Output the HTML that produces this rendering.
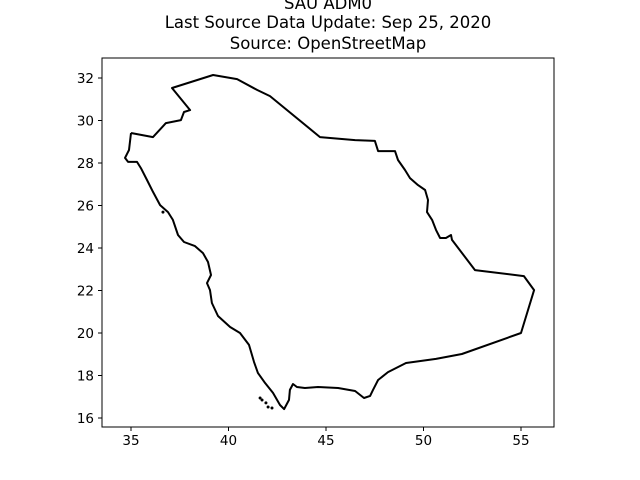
<!DOCTYPE html>
<html><head><meta charset="utf-8"><style>
body{margin:0;background:#fff;}
svg{display:block;font-family:"DejaVu Sans","Liberation Sans",sans-serif;}
</style></head><body>
<svg id="chart" width="640" height="480" viewBox="0 0 640 480">
<rect width="640" height="480" fill="#fff"/>
<text x="328" y="9" text-anchor="middle" font-size="16.5">SAU ADM0</text>
<text x="328" y="28" text-anchor="middle" font-size="16.5">Last Source Data Update: Sep 25, 2020</text>
<text x="328" y="49" text-anchor="middle" font-size="16.5">Source: OpenStreetMap</text>
<g id="ticks"></g>
<g id="marks"></g>
<rect x="102" y="58" width="452" height="369" fill="none" stroke="#000" stroke-width="1"/>
</svg>
<script>
const lons=[35.00,36.13,36.79,37.56,37.72,38.03,37.10,39.21,40.44,41.46,42.13,44.69,46.49,47.51,47.67,48.54,48.69,49.05,49.31,49.72,50.08,50.23,50.18,50.44,50.64,50.85,51.15,51.41,51.46,52.64,55.15,55.67,55.00,51.97,50.64,49.10,48.18,47.67,47.41,47.26,46.95,46.49,45.62,44.59,43.92,43.51,43.31,43.15,43.10,42.85,42.64,42.28,41.87,41.51,41.31,41.05,40.59,40.08,39.46,39.15,39.05,38.90,39.10,38.95,38.69,38.28,37.72,37.41,37.15,36.90,36.49,36.13,35.82,35.51,35.31,34.85,34.69,34.90,35.00];
const lats=[29.41,29.22,29.88,30.02,30.40,30.49,31.53,32.14,31.95,31.44,31.15,29.22,29.08,29.04,28.56,28.56,28.14,27.67,27.29,26.96,26.73,26.26,25.69,25.32,24.85,24.47,24.47,24.61,24.38,22.96,22.68,22.02,20.00,19.01,18.78,18.59,18.16,17.79,17.32,17.04,16.94,17.27,17.41,17.46,17.41,17.46,17.60,17.32,16.85,16.42,16.61,17.18,17.65,18.12,18.64,19.44,20.00,20.28,20.80,21.41,22.02,22.35,22.73,23.34,23.76,24.09,24.28,24.61,25.32,25.69,26.02,26.64,27.20,27.76,28.05,28.05,28.24,28.61,29.41];
const islandLons=[41.72,41.92,42.03,42.23,41.62,36.64];
const islandLats=[16.85,16.71,16.52,16.47,16.94,25.69];
const xTicks=[35,40,45,50,55];
const yTicks=[16,18,20,22,24,26,28,30,32];
const NS="http://www.w3.org/2000/svg";
const xs=v=>131+(v-35)*19.5;
const ys=v=>78+(32-v)*21.25;
const tk=document.getElementById('ticks'),mk=document.getElementById('marks');
function el(t,a,p){const e=document.createElementNS(NS,t);for(const k in a)e.setAttribute(k,a[k]);p.appendChild(e);return e;}
xTicks.forEach(v=>{
 const l=el('line',{x1:xs(v),x2:xs(v),y1:427,y2:431,stroke:'#000'},tk);
 
 
 const t=el('text',{x:xs(v),y:445,'text-anchor':'middle','font-size':'13.5'},tk);t.textContent=v;
 
 
});
yTicks.forEach(v=>{
 const l=el('line',{x1:98,x2:102,y1:ys(v),y2:ys(v),stroke:'#000'},tk);
 
 
 const t=el('text',{x:94,y:ys(v)+5,'text-anchor':'end','font-size':'13.5'},tk);t.textContent=v;
 
 
});
const pts=lons.map((v,i)=>xs(v).toFixed(1)+','+ys(lats[i]).toFixed(1)).join(' ');
const pl=el('polyline',{points:pts,fill:'none',stroke:'#000','stroke-width':2,'stroke-linejoin':'round'},mk);


islandLons.forEach((v,i)=>{
 const c=el('circle',{cx:xs(v),cy:ys(islandLats[i]),r:1.5,fill:'#000'},mk);
 
 
});
</script>
</body></html>
